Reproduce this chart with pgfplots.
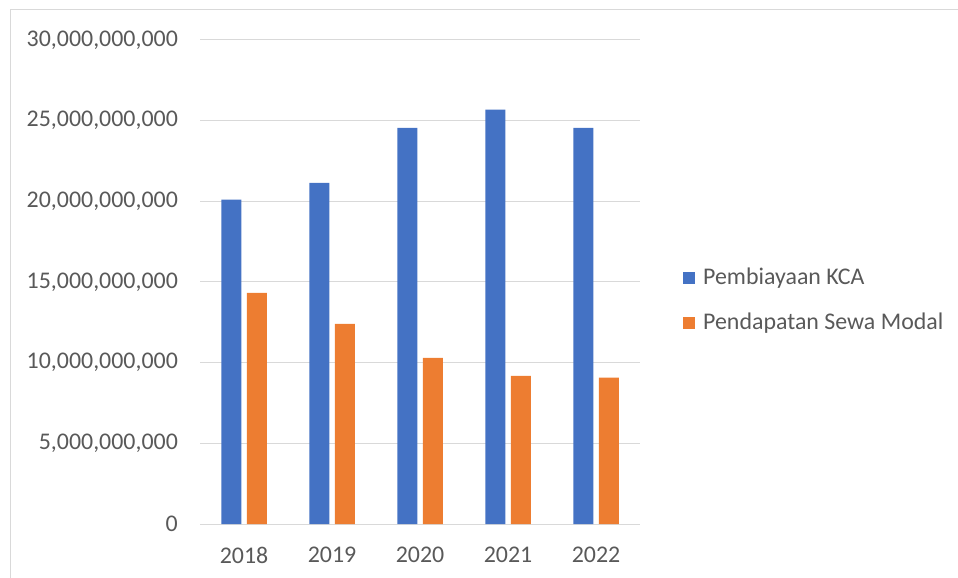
\documentclass[border=0pt]{standalone}
\usepackage{fontspec}
\setmainfont{Carlito}
\usepackage{pgfplots}
\pgfplotsset{compat=1.18}
\definecolor{kcablue}{HTML}{4472C4}
\definecolor{sewaorange}{HTML}{ED7D31}
\definecolor{gridgray}{HTML}{D9D9D9}
\definecolor{textgray}{HTML}{595959}
\definecolor{framegray}{HTML}{D9D9D9}
\begin{document}
\fontsize{23.9pt}{28pt}\selectfont
\begin{tikzpicture}
\begin{axis}[
  at={(200pt,54pt)}, anchor=south west,
  scale only axis,
  width=440pt, height=484pt,
  ybar=5.5pt, bar width=20pt,
  xmin=-0.5, xmax=4.5,
  ymin=0, ymax=30000000000,
  xtick=data,
  xticklabels={2018,2019,2020,2021,2022},
  ytick={0,5000000000,10000000000,15000000000,20000000000,25000000000,30000000000},
  scaled y ticks=false,
  yticklabel style={/pgf/number format/fixed, /pgf/number format/precision=0,
    /pgf/number format/1000 sep={,}, /pgf/number format/assume math mode=true,
    xshift=-14pt},
  ymajorgrids, grid style={gridgray, line width=1pt},
  axis x line*=bottom, axis y line*=left,
  x axis line style={gridgray, line width=1pt, -},
  y axis line style={draw=none},
  major tick length=0pt,
  tick label style={textgray},
  xticklabel style={yshift=-15pt},
  legend style={draw=none, fill=none, at={(1.0977,0.462)}, anchor=west,
    font=\color{textgray}, row sep=21pt, inner sep=0pt,
    nodes={inner sep=2pt, anchor=west},
    /tikz/every odd column/.style={column sep=6pt}},
  legend image code/.code={\fill[#1] (0pt,-6pt) rectangle (12pt,6pt);},
  legend cell align=left,
]
\addplot[fill=kcablue, draw=none] coordinates {
  (0,20110000000) (1,21150000000) (2,24560000000) (3,25690000000) (4,24560000000)
};
\addlegendentry{Pembiayaan KCA}
\addplot[fill=sewaorange, draw=none] coordinates {
  (0,14330000000) (1,12410000000) (2,10300000000) (3,9180000000) (4,9080000000)
};
\addlegendentry{Pendapatan Sewa Modal}
\end{axis}
\draw[framegray, line width=1pt] (10pt,0pt) -- (10pt,568pt) -- (958pt,568pt);
\pgfresetboundingbox
\useasboundingbox (0pt,0pt) rectangle (958pt,578pt);
\end{tikzpicture}
\end{document}
